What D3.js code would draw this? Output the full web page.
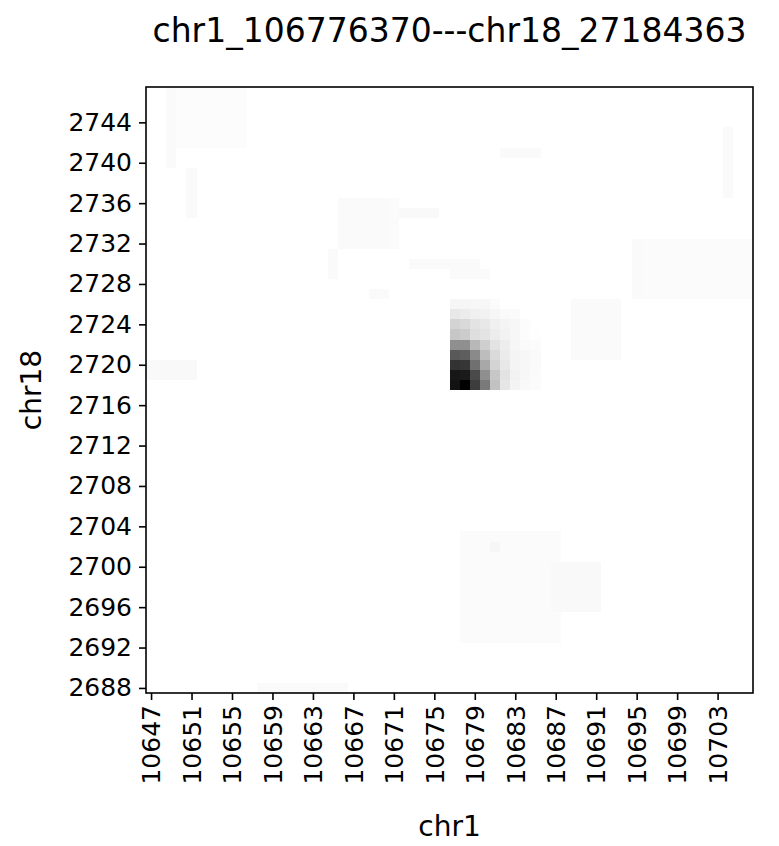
<!DOCTYPE html>
<html>
<head>
<meta charset="utf-8">
<script src="https://cdn.jsdelivr.net/npm/d3@7"></script>
<style>
  body { margin: 0; background: #fff; }
  svg text { font-family: "DejaVu Sans", sans-serif; fill: #000; }
</style>
</head>
<body>
<svg id="chart" width="779" height="846"></svg>
<script>
// bins along each chromosome (10 kb units)
const chr1Bins = d3.range(10647, 10707);
const chr18Bins = d3.range(2688, 2748);

const xTickLabels = [10647, 10651, 10655, 10659, 10663, 10667, 10671, 10675, 10679, 10683, 10687, 10691, 10695, 10699, 10703];
const yTickLabels = [2688, 2692, 2696, 2700, 2704, 2708, 2712, 2716, 2720, 2724, 2728, 2732, 2736, 2740, 2744];

// the strong contact blob
const blobCols = [10677, 10678, 10679, 10680, 10681, 10682, 10683, 10684, 10685];
const blobRows = [2718, 2719, 2720, 2721, 2722, 2723, 2724, 2725, 2726];
const blobValues = [
    [0.93, 1.00, 0.76, 0.52, 0.24, 0.10, 0.045, 0.025, 0.015],
    [0.91, 0.90, 0.71, 0.44, 0.22, 0.11, 0.05, 0.03, 0.015],
    [0.80, 0.79, 0.56, 0.34, 0.17, 0.09, 0.045, 0.03, 0.02],
    [0.65, 0.63, 0.46, 0.26, 0.145, 0.08, 0.045, 0.03, 0.02],
    [0.44, 0.44, 0.28, 0.19, 0.11, 0.07, 0.035, 0.02, 0.015],
    [0.22, 0.20, 0.13, 0.11, 0.075, 0.05, 0.03, 0.01, 0.005],
    [0.17, 0.15, 0.11, 0.09, 0.06, 0.045, 0.03, 0.01, 0],
    [0.09, 0.075, 0.06, 0.05, 0.035, 0.02, 0.015, 0, 0],
    [0.035, 0.035, 0.03, 0.03, 0.015, 0, 0, 0, 0]
];

// faint background patches: [chr1 from, chr1 to, chr18 from, chr18 to, value]
const patches = [
    [10649, 10656, 2742, 2747, 0.012],
    [10649, 10649, 2740, 2747, 0.018],
    [10651, 10651, 2735, 2739, 0.018],
    [10682, 10685, 2741, 2741, 0.02],
    [10704, 10704, 2737, 2743, 0.018],
    [10666, 10671, 2732, 2736, 0.016],
    [10666, 10670, 2732, 2736, 0.02],
    [10672, 10675, 2735, 2735, 0.022],
    [10665, 10665, 2729, 2731, 0.018],
    [10673, 10679, 2730, 2730, 0.02],
    [10677, 10680, 2729, 2729, 0.02],
    [10669, 10670, 2727, 2727, 0.02],
    [10695, 10706, 2727, 2732, 0.016],
    [10695, 10695, 2727, 2732, 0.02],
    [10689, 10693, 2721, 2726, 0.018],
    [10647, 10651, 2719, 2720, 0.022],
    [10678, 10687, 2693, 2703, 0.016],
    [10681, 10681, 2702, 2702, 0.035],
    [10687, 10691, 2696, 2700, 0.022],
    [10658, 10666, 2688, 2688, 0.02]
];

const cells = new Map();
patches.forEach(([c0, c1, r0, r1, v]) => {
    for (let c = c0; c <= c1; c++)
        for (let r = r0; r <= r1; r++) cells.set(c + "," + r, { col: c, row: r, value: v });
});
blobRows.forEach((r, i) => {
    blobCols.forEach((c, j) => {
        if (blobValues[i][j] > 0) cells.set(c + "," + r, { col: c, row: r, value: blobValues[i][j] });
    });
});

const plot = { left: 146, right: 753, top: 87, bottom: 693 };

const x = d3.scaleLinear()
    .domain([chr1Bins[0] - 0.5, chr1Bins[chr1Bins.length - 1] + 0.5])
    .range([plot.left, plot.right]);
const y = d3.scaleLinear()
    .domain([chr18Bins[0] - 0.5, chr18Bins[chr18Bins.length - 1] + 0.5])
    .range([plot.bottom, plot.top]);

const colorScale = d3.scaleLinear()
    .domain([0, 1])
    .range(["#ffffff", "#000000"]);

const svg = d3.select("#chart");

svg.append("g")
    .selectAll("rect")
    .data(Array.from(cells.values()))
    .enter()
    .append("rect")
    .attr("x", d => x(d.col - 0.5))
    .attr("y", d => y(d.row + 0.5))
    .attr("width", d => x(d.col + 0.5) - x(d.col - 0.5))
    .attr("height", d => y(d.row - 0.5) - y(d.row + 0.5))
    .attr("fill", d => colorScale(d.value))
    .attr("shape-rendering", "crispEdges");

const xAxis = svg.append("g")
    .attr("transform", `translate(0,${plot.bottom})`)
    .call(d3.axisBottom(x).tickValues(xTickLabels).tickFormat(d3.format("d")).tickSize(7).tickSizeOuter(0));
xAxis.select(".domain").remove();
xAxis.selectAll("line").attr("stroke-width", 1.6);
xAxis.selectAll("text")
    .attr("font-size", 25)
    .attr("transform", "rotate(-90)")
    .attr("text-anchor", "end")
    .attr("x", -12)
    .attr("y", 0)
    .attr("dy", "0.35em");

const yAxis = svg.append("g")
    .attr("transform", `translate(${plot.left},0)`)
    .call(d3.axisLeft(y).tickValues(yTickLabels).tickFormat(d3.format("d")).tickSize(7).tickSizeOuter(0));
yAxis.select(".domain").remove();
yAxis.selectAll("line").attr("stroke-width", 1.6);
yAxis.selectAll("text")
    .attr("font-size", 25)
    .attr("x", -14);

svg.append("rect")
    .attr("x", plot.left).attr("y", plot.top)
    .attr("width", plot.right - plot.left).attr("height", plot.bottom - plot.top)
    .attr("fill", "none")
    .attr("stroke", "#000")
    .attr("stroke-width", 1.6);

svg.append("text")
    .attr("x", (plot.left + plot.right) / 2)
    .attr("y", 42)
    .attr("text-anchor", "middle")
    .attr("font-size", 33)
    .text("chr1_106776370---chr18_27184363");

svg.append("text")
    .attr("x", (plot.left + plot.right) / 2)
    .attr("y", 836)
    .attr("text-anchor", "middle")
    .attr("font-size", 28)
    .text("chr1");

svg.append("text")
    .attr("transform", `translate(41,${(plot.top + plot.bottom) / 2}) rotate(-90)`)
    .attr("text-anchor", "middle")
    .attr("font-size", 28)
    .text("chr18");
</script>
</body>
</html>
